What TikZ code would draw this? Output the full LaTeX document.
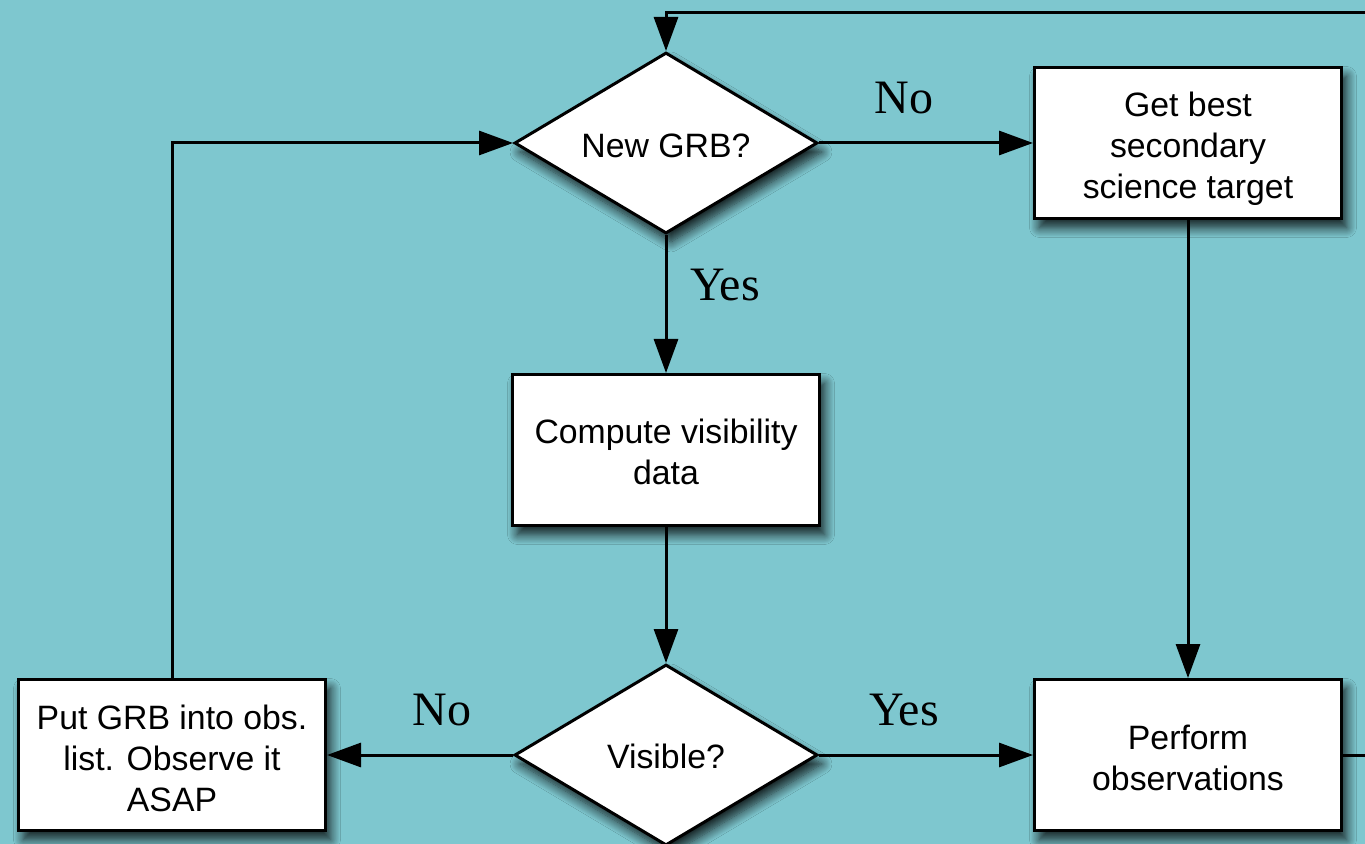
\documentclass[tikz,border=0pt]{standalone}
\usepackage{fontspec}
\setmainfont{Liberation Sans}
\newfontfamily\labelfont{Liberation Serif}
\usetikzlibrary{shapes.geometric,arrows.meta,shadows.blur}
\definecolor{bgteal}{RGB}{126,199,207}
\tikzset{
  conn/.style={line width=1.5pt,-{Triangle[length=17pt,width=12pt]}},
  shade/.style={blur shadow={shadow xshift=2.5pt,shadow yshift=-4.5pt,shadow blur radius=5pt,shadow blur steps=12,shadow opacity=85}},
  boxnode/.style={draw=black,line width=1.5pt,fill=white,rectangle,minimum width=153.5pt,minimum height=75.5pt,inner sep=2pt,shade},
  decnode/.style={draw=black,line width=1.5pt,fill=white,diamond,minimum width=151.5pt,minimum height=90.5pt,inner sep=0pt,shape aspect=1.67,shade},
  txt/.style={align=center,inner sep=0pt,font=\fontsize{16.9}{20.5}\selectfont},
  lbl/.style={font=\labelfont\fontsize{24}{28}\selectfont,inner sep=0pt}
}
\begin{document}
\begin{tikzpicture}[x=0.5pt,y=-0.5pt]
\useasboundingbox[fill=bgteal] (0,0) rectangle (1365,844);
\node[decnode,label={[txt,yshift=-1.5pt]center:New GRB?}] (new) at (666,143) {};
\node[boxnode,label={[txt,yshift=-3pt]center:{Get best\\secondary\\science target}}] (best) at (1188,143) {};
\node[boxnode,label={[txt,yshift=-1pt]center:{Compute visibility\\data}}] (comp) at (666,450) {};
\node[decnode,label={[txt,yshift=-0.5pt]center:Visible?}] (vis) at (666,755) {};
\node[boxnode,label={[txt,yshift=-1.5pt]center:{Put GRB into obs.\\list. Observe it\\ASAP}}] (put) at (172,755) {};
\node[boxnode,label={[txt,yshift=-1.5pt]center:{Perform\\observations}}] (perf) at (1188,755) {};
\node[lbl] (lno1) at (904,98) {No};
\node[lbl] (lyes1) at (725,285) {Yes};
\node[lbl] (lno2) at (442,710) {No};
\node[lbl] (lyes2) at (904,710) {Yes};
\coordinate (c1) at (1420,755);
\coordinate (c2) at (1420,13);
\coordinate (c3) at (666,13);
\draw[conn] (new.south) -- (comp.north);
\draw[conn] (comp.south) -- (vis.north);
\draw[conn] (new.east) -- (best.west);
\draw[conn] (best.south) -- (perf.north);
\draw[conn] (vis.west) -- (put.east);
\draw[conn] (vis.east) -- (perf.west);
\draw[conn] (put.north) |- (new.west);
\draw[conn] (perf.east) -- (c1) -- (c2) -- (c3) -- (new.north);
\end{tikzpicture}
\end{document}
